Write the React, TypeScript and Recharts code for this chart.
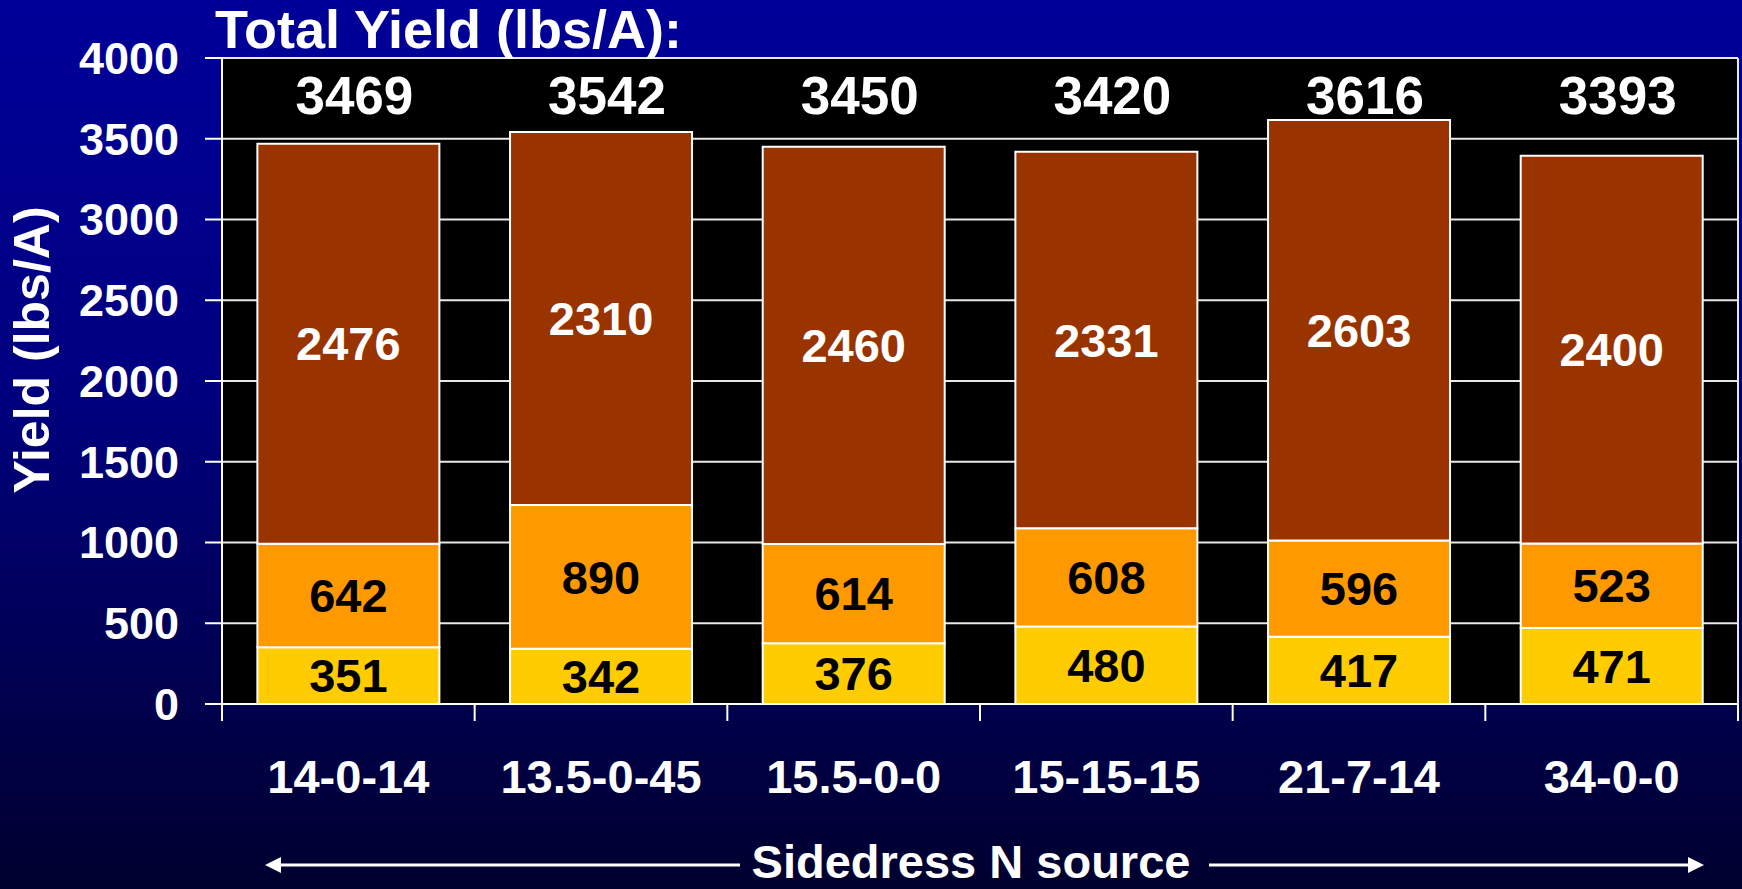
import { BarChart, Bar, XAxis, YAxis, CartesianGrid, LabelList } from 'recharts';

const sources = ['14-0-14', '13.5-0-45', '15.5-0-0', '15-15-15', '21-7-14', '34-0-0'];
const lowerPart = [351, 342, 376, 480, 417, 471];
const middlePart = [642, 890, 614, 608, 596, 523];
const upperPart = [2476, 2310, 2460, 2331, 2603, 2400];
const totals = ['3469', '3542', '3450', '3420', '3616', '3393'];
const yTicks = [0, 500, 1000, 1500, 2000, 2500, 3000, 3500, 4000];

const chartData = sources.map((source, i) => ({
  source,
  lower: lowerPart[i],
  middle: middlePart[i],
  upper: upperPart[i],
}));

const FONT = '"Liberation Sans", Arial, Helvetica, sans-serif';
const W = 1742;
const H = 889;
const PLOT_LEFT = 222;
const PLOT_RIGHT = 1738;
const PLOT_TOP = 58;
const PLOT_BOTTOM = 704;
const BAND = (PLOT_RIGHT - PLOT_LEFT) / sources.length;

const SourceTick = (props: any) => {
  const { x, payload, index } = props;
  return (
    <g>
      <line x1={x - BAND / 2} x2={x - BAND / 2} y1={PLOT_BOTTOM} y2={PLOT_BOTTOM + 17} stroke="#fff" strokeWidth={2} />
      {index === sources.length - 1 && (
        <line x1={x + BAND / 2} x2={x + BAND / 2} y1={PLOT_BOTTOM} y2={PLOT_BOTTOM + 17} stroke="#fff" strokeWidth={2} />
      )}
      <text x={x} y={PLOT_BOTTOM + 89} textAnchor="middle" fill="#fff" fontSize={47} fontWeight="bold" fontFamily={FONT}>
        {payload.value}
      </text>
    </g>
  );
};

const TotalLabel = (props: any) => {
  const { x, width, index } = props;
  return (
    <text x={x + width / 2 + 6} y={114} textAnchor="middle" fill="#fff" fontSize={53} fontWeight="bold" fontFamily={FONT}>
      {totals[index]}
    </text>
  );
};

const segLabel = { fontSize: 47, fontWeight: 'bold', fontFamily: FONT };

export default function App() {
  return (
    <div
      style={{
        position: 'fixed',
        left: 0,
        top: 0,
        width: W,
        height: H,
        background: 'linear-gradient(to bottom, #000099 0%, #00007e 45%, #00002e 100%)',
        overflow: 'hidden',
      }}
    >
      <BarChart
        width={W}
        height={H}
        data={chartData}
        margin={{ top: PLOT_TOP, right: 0, bottom: 85, left: 0 }}
        barCategoryGap="14%"
      >
        <CartesianGrid vertical={false} stroke="#e8e8e8" strokeWidth={2} fill="#000" />
        <XAxis
          dataKey="source"
          height={100}
          tickLine={false}
          tickSize={17}
          tickMargin={0}
          axisLine={{ stroke: '#fff', strokeWidth: 2 }}
          tick={<SourceTick />}
          interval={0}
        />
        <YAxis
          width={PLOT_LEFT}
          domain={[0, 4000]}
          ticks={yTicks}
          tickSize={17}
          tickMargin={26}
          tickLine={{ stroke: '#fff', strokeWidth: 2 }}
          axisLine={{ stroke: '#fff', strokeWidth: 2 }}
          tick={{ fill: '#fff', fontSize: 45, fontWeight: 'bold', fontFamily: FONT }}
          interval={0}
        />
        <YAxis
          yAxisId="frame"
          orientation="right"
          width={4}
          domain={[0, 4000]}
          tick={false}
          tickLine={false}
          axisLine={{ stroke: '#e8e8e8', strokeWidth: 2 }}
        />
        <Bar dataKey="lower" stackId="yield" fill="#FFCC00" stroke="#fff" strokeWidth={2} isAnimationActive={false}>
          <LabelList dataKey="lower" position="center" fill="#000" {...segLabel} />
        </Bar>
        <Bar dataKey="middle" stackId="yield" fill="#FF9900" stroke="#fff" strokeWidth={2} isAnimationActive={false}>
          <LabelList dataKey="middle" position="center" fill="#000" {...segLabel} />
        </Bar>
        <Bar dataKey="upper" stackId="yield" fill="#993300" stroke="#fff" strokeWidth={2} isAnimationActive={false}>
          <LabelList dataKey="upper" position="center" fill="#fff" {...segLabel} />
          <LabelList dataKey="upper" content={<TotalLabel />} />
        </Bar>

        <text x={215} y={48} fill="#fff" fontSize={54} fontWeight="bold" fontFamily={FONT}>
          Total Yield (lbs/A):
        </text>
        <text
          x={32}
          y={350}
          transform="rotate(-90 32 350)"
          textAnchor="middle"
          dominantBaseline="central"
          fill="#fff"
          fontSize={50}
          fontWeight="bold"
          fontFamily={FONT}
        >
          Yield (lbs/A)
        </text>
        <g>
          <line x1={278} x2={740} y1={865} y2={865} stroke="#fff" strokeWidth={3} />
          <polygon points="265,865 281,857 281,873" fill="#fff" />
          <text x={971} y={878} textAnchor="middle" fill="#fff" fontSize={47} fontWeight="bold" fontFamily={FONT}>
            Sidedress N source
          </text>
          <line x1={1209} x2={1690} y1={865} y2={865} stroke="#fff" strokeWidth={3} />
          <polygon points="1704,865 1688,857 1688,873" fill="#fff" />
        </g>
      </BarChart>
    </div>
  );
}
